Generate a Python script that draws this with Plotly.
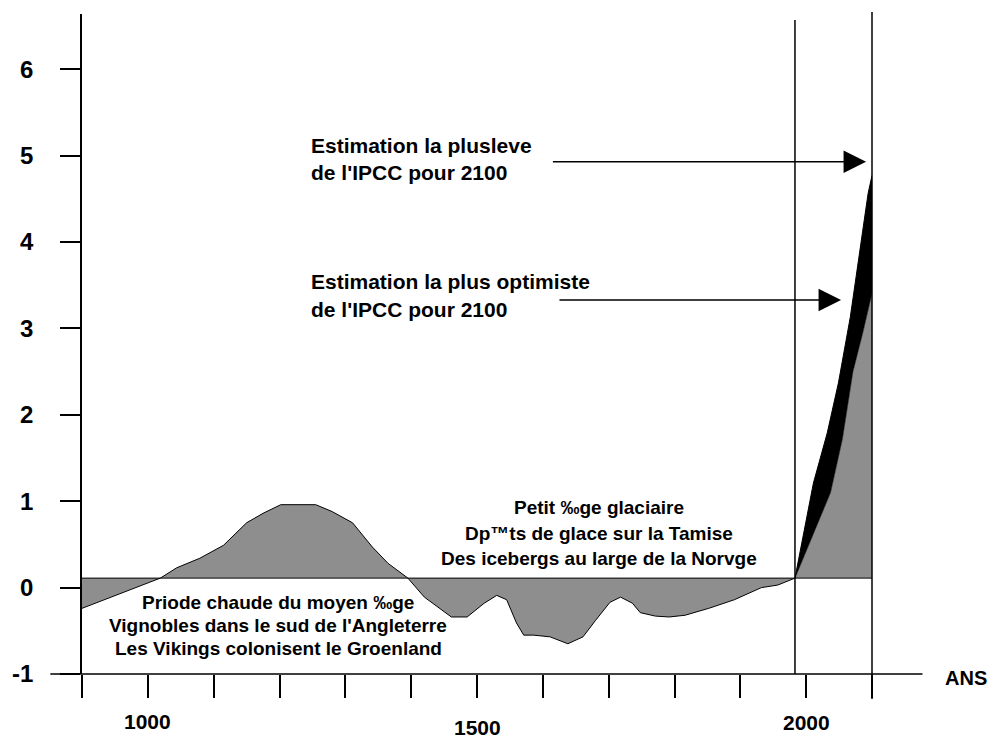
import plotly.graph_objects as go

# ---------------- data ----------------
years_past = [900, 1019, 1044, 1079, 1115, 1150, 1175, 1202, 1255, 1280, 1311,
              1341, 1365, 1395, 1420, 1461, 1485, 1511, 1530, 1545, 1560, 1571,
              1586, 1611, 1638, 1661, 1680, 1702, 1718, 1736, 1748, 1771, 1792,
              1816, 1852, 1891, 1932, 1957, 1983]
temp_past = [-0.24, 0.11, 0.23, 0.34, 0.49, 0.75, 0.86, 0.96, 0.96, 0.88, 0.75,
             0.47, 0.28, 0.11, -0.11, -0.34, -0.34, -0.18, -0.09, -0.14, -0.41, -0.55,
             -0.55, -0.57, -0.65, -0.57, -0.38, -0.17, -0.11, -0.18, -0.29, -0.33, -0.34,
             -0.32, -0.24, -0.14, 0.00, 0.03, 0.11]

years_high = [1983, 1996, 2011, 2032, 2049, 2067, 2082, 2094, 2100]
temp_high = [0.11, 0.63, 1.21, 1.79, 2.37, 3.13, 3.91, 4.56, 4.77]

years_low = [1983, 2007, 2037, 2055, 2071, 2086, 2097, 2100]
temp_low = [0.11, 0.55, 1.10, 1.72, 2.50, 2.95, 3.33, 3.41]

baseline = 0.11
present_year = 1983
start_year, end_year = 900, 2100

y_ticks = [-1, 0, 1, 2, 3, 4, 5, 6]
x_ticks = list(range(900, 2101, 100))
x_labels = ["1000", "1500", "2000"]
x_label_years = [1000, 1500, 2000]

arrow_high = (1613, 2091, 4.93)   # tail year, tip year, value
arrow_low = (1623, 2053, 3.33)

txt_high = ["Estimation la plusleve", "de l'IPCC pour 2100"]
txt_low = ["Estimation la plus optimiste", "de l'IPCC pour 2100"]
txt_warm = ["Priode chaude du moyen \u2030ge",
            "Vignobles dans le sud de l'Angleterre",
            "Les Vikings colonisent le Groenland"]
txt_cold = ["Petit \u2030ge glaciaire",
            "Dp\u2122ts de glace sur la Tamise",
            "Des icebergs au large de la Norvge"]

# ---------------- layout geometry ----------------
W, H = 993, 739
ML, MR, MT, MB = 74, 121, 14, 65
PW, PH = W - ML - MR, H - MT - MB


def px(xp, yp):
    return (xp - ML) / PW, (H - MB - yp) / PH


FONT = "Arial, Liberation Sans, sans-serif"
HATCH = "#8e8e8e"

fig = go.Figure()
fig.add_trace(go.Scatter(x=[start_year, present_year], y=[baseline, baseline],
                         mode="lines", line=dict(color="black", width=1),
                         hoverinfo="skip"))
fig.add_trace(go.Scatter(x=years_past, y=temp_past, mode="lines",
                         line=dict(color="black", width=1), fill="tonexty",
                         fillcolor=HATCH, hoverinfo="skip"))
fig.add_trace(go.Scatter(x=[present_year, end_year], y=[baseline, baseline],
                         mode="lines", line=dict(color="black", width=1),
                         hoverinfo="skip"))
fig.add_trace(go.Scatter(x=years_low, y=temp_low, mode="lines",
                         line=dict(color="black", width=0.5), fill="tonexty",
                         fillcolor=HATCH, hoverinfo="skip"))
fig.add_trace(go.Scatter(x=years_high, y=temp_high, mode="lines",
                         line=dict(color="black", width=1), fill="tonexty",
                         fillcolor="black", hoverinfo="skip"))

annotations = []
# arrows
for tail, tip, val in (arrow_high, arrow_low):
    annotations.append(dict(x=tip, y=val, ax=tail, ay=val, xref="x", yref="y",
                            axref="x", ayref="y", showarrow=True, arrowhead=2,
                            arrowsize=3.0, arrowwidth=1.5, arrowcolor="black",
                            text="", standoff=0))


def add_text(t, xp, yp, size, anchor="center"):
    xx, yy = px(xp, yp)
    annotations.append(dict(x=xx, y=yy, xref="paper", yref="paper", text=t,
                            showarrow=False, xanchor=anchor, yanchor="middle",
                            font=dict(family=FONT, size=size, color="black",
                                      weight="bold")))


for t, yp in zip(txt_high, [145, 172]):
    add_text(t, 303, yp, 21, "left")
for t, yp in zip(txt_low, [282, 309]):
    add_text(t, 303, yp, 21, "left")
for t, yp in zip(txt_warm, [602, 625, 648]):
    add_text(t, 272, yp, 19)
for t, yp in zip(txt_cold, [507, 533, 558]):
    add_text(t, 596, yp, 19)

# x tick labels
for lab, yr, yp in zip(x_labels, x_label_years, [721, 727, 722]):
    xx = (yr - start_year) / (end_year - start_year)
    annotations.append(dict(x=xx, y=px(0, yp)[1], xref="paper", yref="paper",
                            text=lab, showarrow=False, xanchor="center",
                            yanchor="middle",
                            font=dict(family=FONT, size=21, color="black",
                                      weight="bold")))
add_text("ANS", 967, 678, 20)

shapes = [
    # extended x axis line
    dict(type="line", xref="paper", yref="paper", x0=px(42, 0)[0], x1=px(923, 0)[0],
         y0=0, y1=0, line=dict(color="black", width=1.5)),
    # present-day vertical line
    dict(type="line", xref="x", yref="paper", x0=present_year, x1=present_year,
         y0=0, y1=px(0, 20)[1], line=dict(color="black", width=1.5)),
    # 2100 vertical line
    dict(type="line", xref="paper", yref="paper", x0=1, x1=1,
         y0=px(0, 699)[1], y1=px(0, 12)[1], line=dict(color="black", width=1.5)),
]

fig.update_layout(
    width=W, height=H, margin=dict(l=ML, r=MR, t=MT, b=MB),
    paper_bgcolor="white", plot_bgcolor="white", showlegend=False,
    annotations=annotations, shapes=shapes,
    xaxis=dict(range=[start_year, end_year], showgrid=False, zeroline=False,
               showline=False, ticks="outside", ticklen=23, tickwidth=1.5,
               tickcolor="black", tickvals=x_ticks, showticklabels=False),
    yaxis=dict(range=[-1, 6.64], showgrid=False, zeroline=False, showline=True,
               linecolor="black", linewidth=1.5, ticks="outside", ticklen=20,
               tickwidth=1.5, tickcolor="black", tickvals=y_ticks,
               ticktext=[str(v) for v in y_ticks], ticklabelstandoff=22,
               tickfont=dict(family=FONT, size=24, color="black", weight="bold")),
)

fig.write_html("out.html", config={"displayModeBar": False},
               post_script="document.body.style.margin='0';"
                           "document.body.style.overflow='hidden';")
